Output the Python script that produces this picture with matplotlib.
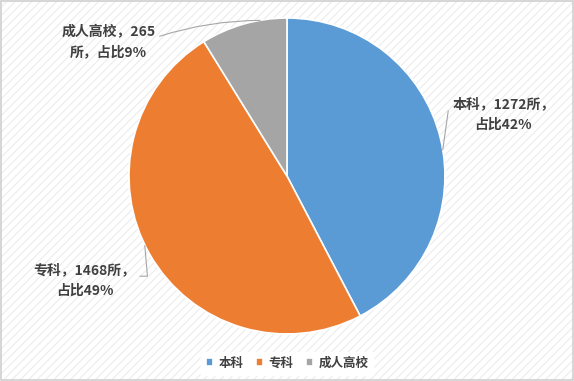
import matplotlib.pyplot as plt
from matplotlib.patches import Rectangle

plt.rcParams['font.family'] = ['Noto Sans CJK SC', 'DejaVu Sans']
plt.rcParams['hatch.linewidth'] = 0.8

labels = ['本科', '专科', '成人高校']
counts = [1272, 1468, 265]
shares = ['42%', '49%', '9%']
colors = ['#5B9BD5', '#ED7D31', '#A5A5A5']

fig = plt.figure(figsize=(5.74, 3.81), dpi=100)
bg = Rectangle((0, 0), 1, 1, transform=fig.transFigure, facecolor='white',
               hatch='////', edgecolor='#ececec', linewidth=0, zorder=-10)
fig.patches.append(bg)
border = Rectangle((0.001, 0.002), 0.997, 0.995, transform=fig.transFigure, fill=False,
                   edgecolor='#d0d0d0', linewidth=1.2, zorder=10)
fig.patches.append(border)

ax = fig.add_axes([0.2247, 0.1234, 0.5505, 0.8294])
wedges, _ = ax.pie(counts, colors=colors, startangle=90, counterclock=False,
                   wedgeprops=dict(edgecolor='white', linewidth=1.2))
ax.set_xlim(-1, 1)
ax.set_ylim(-1, 1)
ax.set_aspect('equal')

font = dict(fontsize=10, fontweight='bold', color='#404040', ha='center', va='center',
            linespacing=1.55)
line = dict(arrowstyle='-', color='#a6a6a6', lw=0.8, shrinkA=1, shrinkB=0)

ax.annotate(f'{labels[0]}，{counts[0]}所，\n占比{shares[0]}', xy=(0.986, 0.165),
            xytext=(1.37, 0.39),
            arrowprops=dict(line, relpos=(0, 0.62),
                            connectionstyle='angle,angleA=0,angleB=82,rad=0'), **font)
ax.annotate(f'{labels[1]}，{counts[1]}所，\n占比{shares[1]}', xy=(-0.90, -0.44),
            xytext=(-1.28, -0.66),
            arrowprops=dict(line, relpos=(1, 0.62),
                            connectionstyle='angle,angleA=0,angleB=95,rad=0'), **font)
ax.annotate(f'{labels[2]}，{counts[2]}\n所，占比{shares[2]}', xy=(-0.17, 0.985),
            xytext=(-1.13, 0.85),
            arrowprops=dict(line, relpos=(1, 0.62),
                            connectionstyle='arc3,rad=-0.08'), **font)

leg = fig.legend(wedges, labels, loc='lower center', bbox_to_anchor=(0.5, 0.0), ncol=3,
                 frameon=True, fancybox=False, edgecolor='white', framealpha=1,
                 handlelength=0.6, handleheight=0.6, handletextpad=0.4, columnspacing=1.0,
                 prop=dict(family=['Noto Sans CJK SC', 'DejaVu Sans'], size=9, weight='bold'))
for t in leg.get_texts():
    t.set_color('#404040')

fig.savefig('out.png', dpi=100)
